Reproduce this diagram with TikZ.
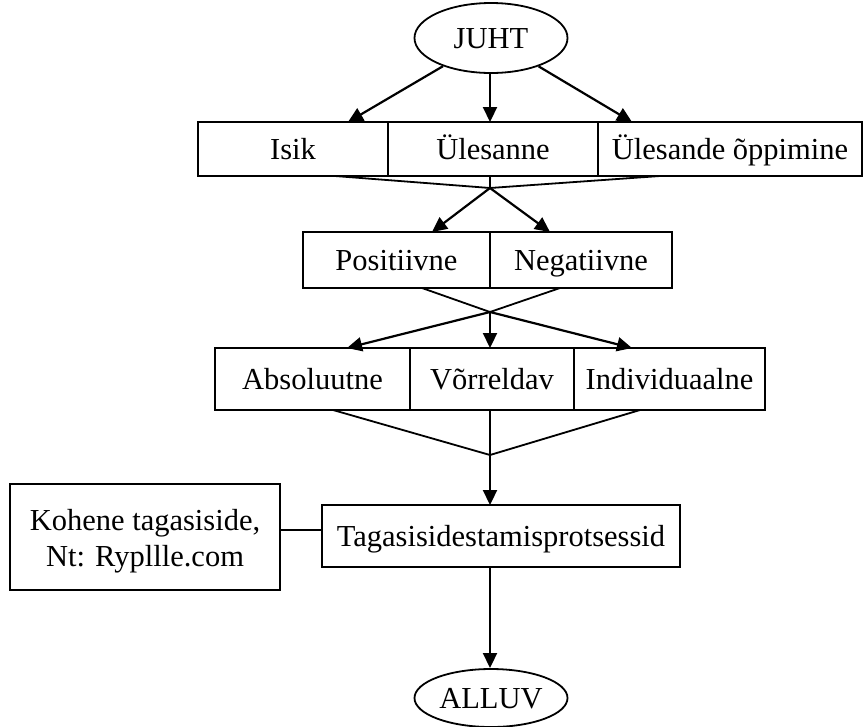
\documentclass[tikz,border=0pt]{standalone}
\usepackage{fontspec}
\setmainfont{Liberation Serif}
\usetikzlibrary{arrows.meta,shapes.geometric}
\begin{document}
\begin{tikzpicture}[x=1pt,y=-1pt,
  every node/.style={font=\fontsize{30.5}{36}\selectfont},
  cell/.style={draw, line width=1.8pt, rectangle, inner sep=0pt, align=center, text height=23pt, text depth=3pt},
  oval/.style={draw, line width=1.8pt, ellipse, inner sep=0pt, text height=23pt, text depth=3pt},
  ln/.style={line width=1.8pt},
  arr/.style={line width=2.2pt, -{Triangle[length=15pt,width=14pt]}}]
\useasboundingbox (0,0) rectangle (866,726);
\fill[white] (0,0) rectangle (866,726);
% ovals
\node[oval, minimum width=153pt, minimum height=70pt] (juht) at (491,38) {JUHT};
\node[oval, minimum width=153pt, minimum height=58pt] (alluv) at (491,698) {ALLUV};
% row 1
\node[cell, minimum width=190pt, minimum height=54pt] (isik) at (293,149) {Isik};
\node[cell, minimum width=210pt, minimum height=54pt] (ul) at (493,149) {Ülesanne};
\node[cell, minimum width=264pt, minimum height=54pt] (ulo) at (730,149) {Ülesande õppimine};
% row 2
\node[cell, minimum width=187pt, minimum height=56pt] (pos) at (396.5,260) {Positiivne};
\node[cell, minimum width=182pt, minimum height=56pt] (neg) at (581,260) {Negatiivne};
% row 3
\node[cell, minimum width=195pt, minimum height=62pt] (abs) at (312.5,379) {Absoluutne};
\node[cell, minimum width=164pt, minimum height=62pt] (vor) at (492,379) {Võrreldav};
\node[cell, minimum width=191pt, minimum height=62pt] (ind) at (669.5,379) {Individuaalne};
% row 4
\node[cell, minimum width=358pt, minimum height=62pt] (tag) at (501,536) {Tagasisidestamisprotsessid};
\node[cell, minimum width=270pt, minimum height=106pt, text height=, text depth=] (koh) at (145,537) {\rule{0pt}{30pt}Kohene tagasiside,\\Nt: Rypllle.com};
% coordinates
\coordinate (t1) at (348,122);
\coordinate (t2) at (490,122);
\coordinate (t3) at (632,122);
\coordinate (c1) at (490,188);
\coordinate (a1) at (335,176);
\coordinate (a2) at (490,176);
\coordinate (a3) at (660,176);
\coordinate (p1) at (432,232);
\coordinate (p2) at (550,232);
\coordinate (c2) at (490,312);
\coordinate (b1) at (422,288);
\coordinate (b2) at (560,288);
\coordinate (q1) at (347,348);
\coordinate (q2) at (490,348);
\coordinate (q3) at (632,348);
\coordinate (c3) at (490,455);
\coordinate (d1) at (333,410);
\coordinate (d2) at (490,410);
\coordinate (d3) at (640,410);
\coordinate (r1) at (490,505);
\coordinate (e1) at (490,567);
\coordinate (e2) at (490,668);
\coordinate (k1) at (280,530);
\coordinate (k2) at (322,530);
% connectors
\draw[arr] (juht) -- (t1);
\draw[arr] (juht.south -| t2) -- (t2);
\draw[arr] (juht) -- (t3);
\draw[ln] (a1) -- (c1) -- (a3);
\draw[ln] (a2) -- (c1);
\draw[arr] (c1) -- (p1);
\draw[arr] (c1) -- (p2);
\draw[ln] (b1) -- (c2) -- (b2);
\draw[arr] (c2) -- (q1);
\draw[arr] (c2) -- (q2);
\draw[arr] (c2) -- (q3);
\draw[ln] (d1) -- (c3) -- (d3);
\draw[ln] (d2) -- (c3);
\draw[arr] (c3) -- (r1);
\draw[arr] (e1) -- (e2);
\draw[ln] (k1) -- (k2);
\end{tikzpicture}
\end{document}
